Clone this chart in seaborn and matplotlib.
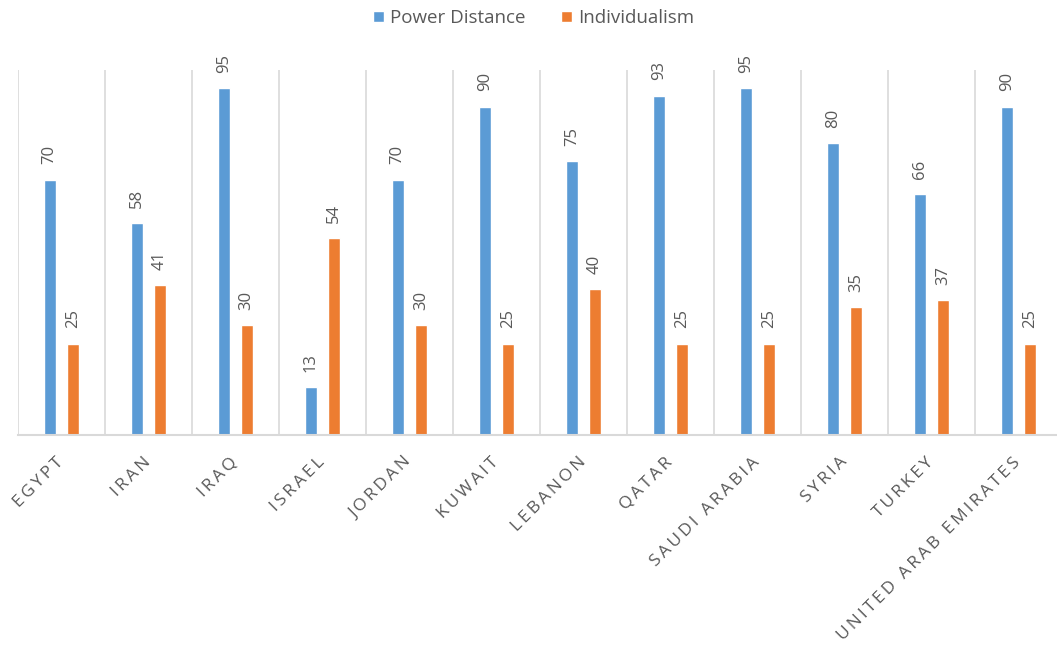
import matplotlib
matplotlib.use("Agg")
import matplotlib.pyplot as plt
import seaborn as sns
import pandas as pd
from matplotlib.patches import Patch

# Hofstede cultural dimension scores for Middle Eastern countries
countries = ["EGYPT", "IRAN", "IRAQ", "ISRAEL", "JORDAN", "KUWAIT", "LEBANON",
             "QATAR", "SAUDI ARABIA", "SYRIA", "TURKEY", "UNITED ARAB EMIRATES"]
power_distance = [70, 58, 95, 13, 70, 90, 75, 93, 95, 80, 66, 90]
individualism = [25, 41, 30, 54, 30, 25, 40, 25, 25, 35, 37, 25]
series_names = ["Power Distance", "Individualism"]

BLUE = "#5B9BD5"
ORANGE = "#ED7D31"
TEXT = "#595959"
GRID = "#D9D9D9"

df = pd.DataFrame({
    "country": countries * 2,
    "score": power_distance + individualism,
    "dimension": [series_names[0]] * len(countries) + [series_names[1]] * len(countries),
})

sns.set_theme(style="white")
plt.rcParams["font.family"] = ["Open Sans", "DejaVu Sans"]

fig = plt.figure(figsize=(10.57, 6.5), dpi=100)
ax = fig.add_axes([0.0167, 0.331, 0.988, 0.561])

sns.barplot(data=df, x="country", y="score", hue="dimension",
            order=countries, hue_order=series_names,
            palette=[BLUE, ORANGE], width=0.53, gap=0.47,
            saturation=1, errorbar=None, legend=False, ax=ax)

for container in ax.containers:
    ax.bar_label(container, fmt="%d", rotation=90, padding=11,
                 color=TEXT, fontsize=12)

ax.set_ylim(0, 100)
ax.set_xlim(-0.5, len(countries) - 0.5)
ax.set_yticks([])
ax.set_xlabel("")
ax.set_ylabel("")

# category separators
ax.set_xticks([i - 0.5 for i in range(len(countries) + 1)], minor=True)
ax.grid(True, axis="x", which="minor", color=GRID, linewidth=1.2)
ax.grid(False, axis="x", which="major")
ax.tick_params(axis="x", which="both", length=0)

for side in ["top", "right", "left"]:
    ax.spines[side].set_visible(False)
ax.spines["bottom"].set_color(GRID)
ax.spines["bottom"].set_linewidth(1.5)


def spaced(s):
    gap = "\u2009"
    return (gap + " " + gap).join(gap.join(w) for w in s.split(" "))


ax.set_xticks(range(len(countries)))
ax.set_xticklabels([spaced(c) for c in countries], rotation=45, ha="right",
                   va="center", rotation_mode="anchor", color=TEXT,
                   fontsize=12.5)
ax.tick_params(axis="x", which="major", pad=18)

handles = [Patch(facecolor=BLUE), Patch(facecolor=ORANGE)]
fig.legend(handles, series_names, loc="center", bbox_to_anchor=(0.505, 0.972),
           ncol=2, frameon=False, handlelength=0.55, handleheight=0.55,
           handletextpad=0.35, columnspacing=1.9, fontsize=13.5,
           labelcolor=TEXT)

fig.savefig("out.png", dpi=100, facecolor="white")
